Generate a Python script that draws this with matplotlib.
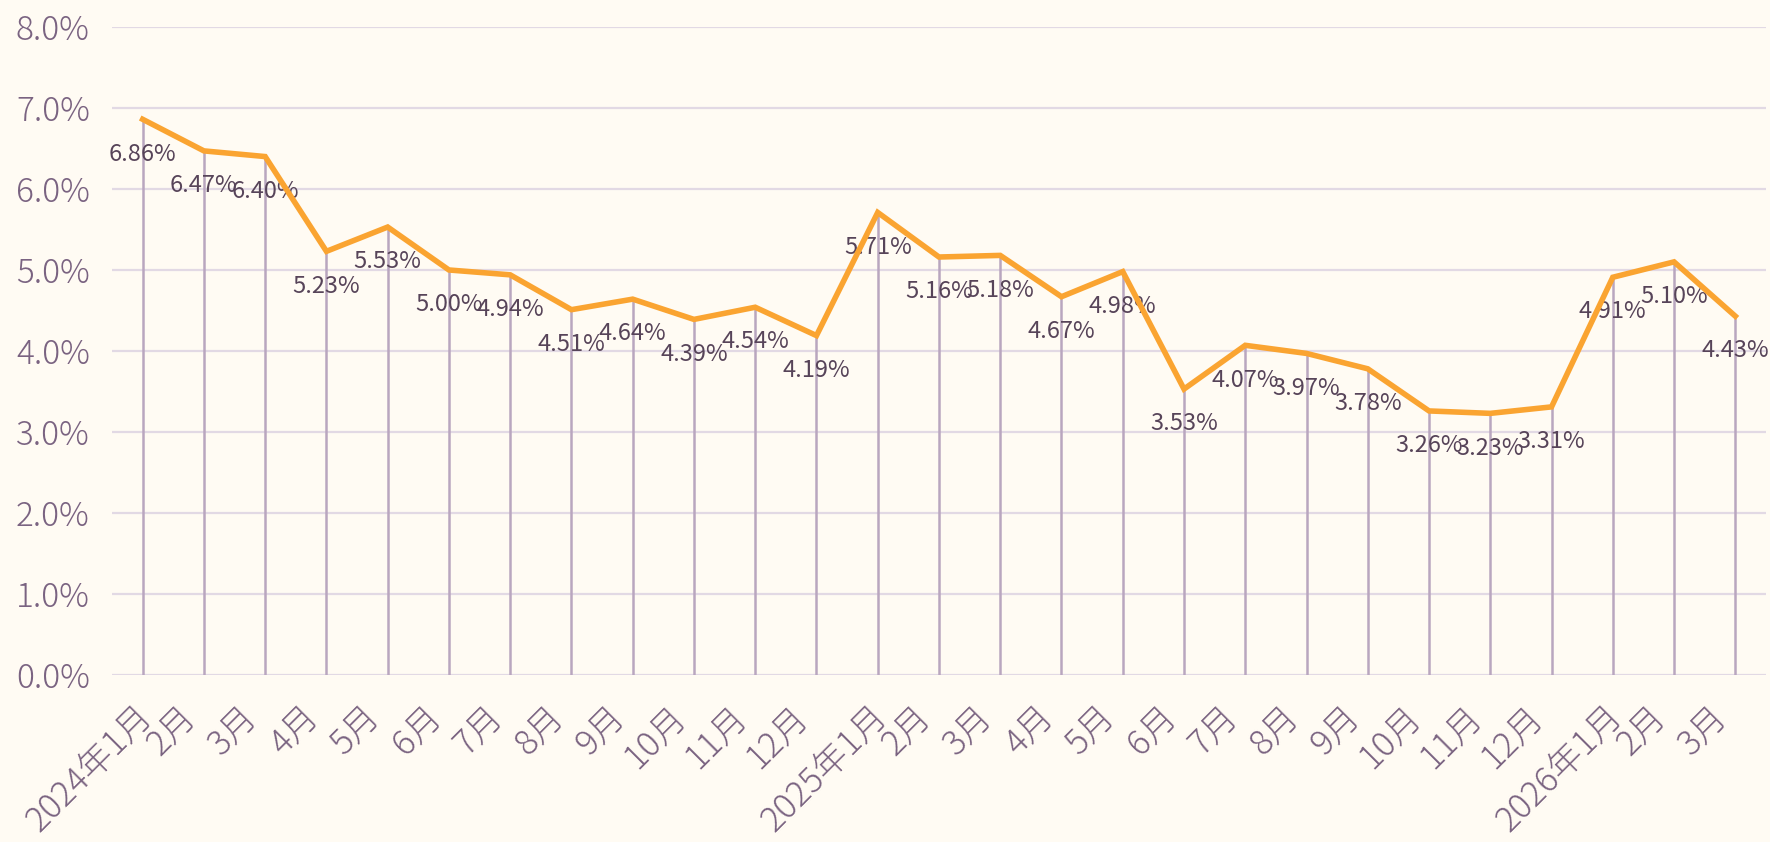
import matplotlib
matplotlib.use("Agg")
import matplotlib.pyplot as plt
from matplotlib.ticker import FuncFormatter
from matplotlib.transforms import ScaledTranslation

plt.rcParams['font.family'] = ['Noto Sans CJK JP', 'DejaVu Sans']

# 月次の値 (%)
months = ["2024年1月", "2月", "3月", "4月", "5月", "6月", "7月", "8月", "9月",
          "10月", "11月", "12月", "2025年1月", "2月", "3月", "4月", "5月", "6月",
          "7月", "8月", "9月", "10月", "11月", "12月", "2026年1月", "2月", "3月"]
values = [6.86, 6.47, 6.40, 5.23, 5.53, 5.00, 4.94, 4.51, 4.64, 4.39, 4.54, 4.19,
          5.71, 5.16, 5.18, 4.67, 4.98, 3.53, 4.07, 3.97, 3.78, 3.26, 3.23, 3.31,
          4.91, 5.10, 4.43]

BG = "#FFFBF3"
ORANGE = "#FAA431"
DROP = "#B9A6BF"
GRID = "#E2D9E4"
TICK = "#7A6381"
LABEL = "#574459"

x = list(range(len(values)))

fig = plt.figure(figsize=(17.7, 8.42), dpi=100, facecolor=BG)
ax = fig.add_axes([0.0633, 0.1983, 0.9344, 0.7697])
ax.set_facecolor(BG)

ax.vlines(x, 0, values, color=DROP, linewidth=1.8, zorder=2)
ax.plot(x, values, color=ORANGE, linewidth=4, solid_joinstyle="miter", zorder=4)

for xi, v in zip(x, values):
    ax.annotate(f"{v:.2f}%", (xi, v), xytext=(0, -25), textcoords="offset points",
                ha="center", va="center", fontsize=17, color=LABEL, zorder=3)

ax.set_xlim(-0.5, len(values) - 0.5)
ax.set_ylim(0, 8)
ax.set_yticks(range(0, 9))
ax.yaxis.set_major_formatter(FuncFormatter(lambda v, p: f"{v:.1f}%"))
ax.set_xticks(x)
ax.set_xticklabels(months, rotation=45, ha="right", rotation_mode="anchor")

ax.grid(axis="y", color=GRID, linewidth=1.6, zorder=1)
ax.set_axisbelow(True)
for s in ax.spines.values():
    s.set_visible(False)
ax.tick_params(axis="both", length=0, colors=TICK)
ax.tick_params(axis="y", pad=16, labelsize=24)
ax.tick_params(axis="x", pad=17, labelsize=25)
for t in ax.get_yticklabels() + ax.get_xticklabels():
    t.set_fontweight("light")

# ずらして基準画像の位置に合わせる (年付きラベルは少し右)
for t in ax.get_xticklabels():
    dx = -0.08 if "年" in t.get_text() else -0.26
    t.set_transform(t.get_transform() + ScaledTranslation(dx, 0, fig.dpi_scale_trans))

fig.savefig("out.png", dpi=100, facecolor=BG)
